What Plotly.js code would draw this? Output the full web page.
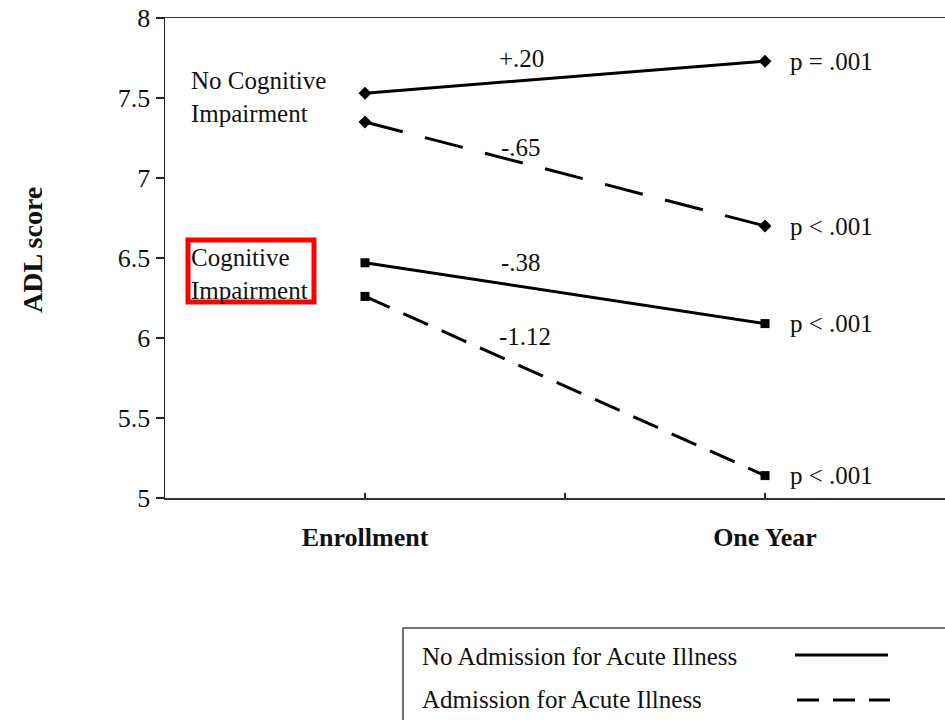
<!DOCTYPE html>
<html>
<head>
<meta charset="utf-8">
<script src="https://cdn.plot.ly/plotly-3.0.1.min.js"></script>
<style>
  html, body { margin: 0; padding: 0; background: #fff; overflow: hidden; }
  #chart { width: 945px; height: 720px; }
</style>
</head>
<body>
<div id="chart"></div>
<script>
// Measurement occasions
const timePoints = [0, 1];
const timeLabels = ['Enrollment', 'One Year'];

// Mean ADL scores by cognitive status and acute-illness admission
const noCiNoAdmission = [7.53, 7.73];
const noCiAdmission   = [7.35, 6.70];
const ciNoAdmission   = [6.47, 6.09];
const ciAdmission     = [6.26, 5.14];

// Change over the year and significance for each group
const changeLabels = ['+.20', '-.65', '-.38', '-1.12'];
const pLabels = ['p = .001', 'p < .001', 'p < .001', 'p < .001'];

const groupLabels = ['No Cognitive<br>Impairment', 'Cognitive<br>Impairment'];
const legendLabels = ['No Admission for Acute Illness', 'Admission for Acute Illness'];
const yTicks = [5, 5.5, 6, 6.5, 7, 7.5, 8];

const FONT = 'Liberation Serif, Times New Roman, serif';
const W = 945, H = 720;
const M = { l: 165, r: 0, t: 18, b: 222 };
const plotW = W - M.l - M.r, plotH = H - M.t - M.b;
// pixel position -> paper fraction (used for the legend box drawn below the plot)
const px = v => (v - M.l) / plotW;
const py = v => (H - M.b - v) / plotH;

const solid = { color: '#000', width: 3 };

const series = [
  { y: noCiNoAdmission, line: solid, symbol: 'diamond', size: 10 },
  { y: noCiAdmission,   line: { color: '#000', width: 3, dash: '39px,23px' }, symbol: 'diamond', size: 10 },
  { y: ciNoAdmission,   line: solid, symbol: 'square', size: 9 },
  { y: ciAdmission,     line: { color: '#000', width: 3, dash: '27px,15px' }, symbol: 'square', size: 9 }
];

const traces = series.map(s => ({
  x: timePoints,
  y: s.y,
  type: 'scatter',
  mode: 'lines+markers',
  line: s.line,
  marker: { symbol: s.symbol, size: s.size, color: '#000' },
  showlegend: false,
  hoverinfo: 'skip',
  cliponaxis: false
}));

const annFont = { family: FONT, size: 25, color: '#111' };
const annotations = [];

// change over the year, placed along each line
const changePos = [[0.39, 7.75], [0.39, 7.19], [0.39, 6.475], [0.40, 6.01]];
changeLabels.forEach((t, i) => annotations.push({
  x: changePos[i][0], y: changePos[i][1], xref: 'x', yref: 'y',
  text: t, showarrow: false, xanchor: 'center', yanchor: 'middle', font: annFont
}));

// p-values to the right of the one-year points
series.forEach((s, i) => annotations.push({
  x: timePoints[1] + 0.057, y: s.y[1], xref: 'x', yref: 'y',
  text: pLabels[i], showarrow: false, xanchor: 'left', yanchor: 'middle', font: annFont
}));

// group labels
annotations.push({
  x: -0.44, y: 7.505, xref: 'x', yref: 'y', text: groupLabels[0], showarrow: false,
  xanchor: 'left', yanchor: 'middle', align: 'left', font: annFont
});
annotations.push({
  x: -0.44, y: 6.40, xref: 'x', yref: 'y', text: groupLabels[1], showarrow: false,
  xanchor: 'left', yanchor: 'middle', align: 'left', font: annFont
});

// y axis title
annotations.push({
  x: px(33), y: py(250), xref: 'paper', yref: 'paper', text: 'ADL score',
  textangle: -90, showarrow: false, xanchor: 'center', yanchor: 'middle',
  font: { family: FONT, size: 28, color: '#111', weight: 'bold' }
});

// legend texts
legendLabels.forEach((t, i) => annotations.push({
  x: px(420), y: py(i === 0 ? 656 : 699), xref: 'paper', yref: 'paper',
  text: t, showarrow: false, xanchor: 'left', yanchor: 'middle', font: annFont
}));

const shapes = [
  // highlight around the cognitive-impairment label
  { type: 'rect', xref: 'x', yref: 'y', x0: -0.4425, x1: -0.1275, y0: 6.225, y1: 6.6125,
    line: { color: '#ff0000', width: 5 }, fillcolor: 'rgba(0,0,0,0)', layer: 'below' },
  // legend frame
  { type: 'rect', xref: 'paper', yref: 'paper', x0: px(403), x1: px(960), y0: py(730), y1: py(628),
    line: { color: '#444', width: 1.5 }, fillcolor: 'rgba(0,0,0,0)' },
  // legend line samples
  { type: 'line', xref: 'paper', yref: 'paper', x0: px(795), x1: px(888), y0: py(655), y1: py(655),
    line: { color: '#000', width: 3 } },
  { type: 'line', xref: 'paper', yref: 'paper', x0: px(797), x1: px(890), y0: py(700), y1: py(700),
    line: { color: '#000', width: 3, dash: '22px,14px' } }
];

const layout = {
  width: W, height: H,
  margin: M,
  paper_bgcolor: '#fff', plot_bgcolor: '#fff',
  font: { family: FONT, color: '#111' },
  showlegend: false,
  xaxis: {
    range: [-0.5, 1.45],
    tickvals: [0, 0.5, 1],
    ticktext: [timeLabels[0], '', timeLabels[1]],
    ticks: 'inside', ticklen: 5, tickwidth: 1.5, tickcolor: '#222',
    tickfont: { family: FONT, size: 26, color: '#111', weight: 'bold' },
    ticklabelstandoff: 15,
    showline: true, linecolor: '#333', linewidth: 1.5, mirror: true,
    showgrid: false, zeroline: false, fixedrange: true
  },
  yaxis: {
    range: [5, 8],
    tickvals: yTicks,
    ticktext: yTicks.map(v => String(v)),
    ticks: 'outside', ticklen: 8, tickwidth: 1.5, tickcolor: '#222',
    tickfont: { family: FONT, size: 26, color: '#111' },
    showline: true, linecolor: '#222', linewidth: 1.5,
    showgrid: false, zeroline: false, fixedrange: true
  },
  annotations: annotations,
  shapes: shapes
};

Plotly.newPlot('chart', traces, layout, { displayModeBar: false, staticPlot: true });
</script>
</body>
</html>
